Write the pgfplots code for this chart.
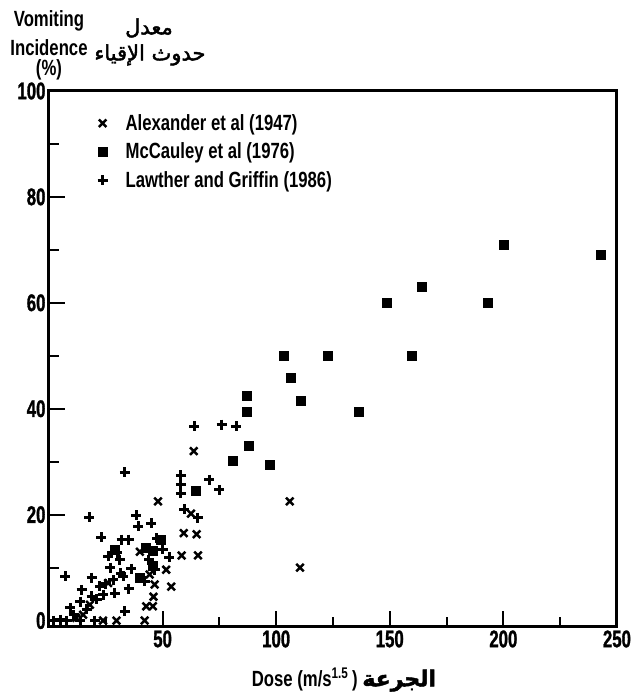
\documentclass[border=0pt]{standalone}
\usepackage{fontspec}
\usepackage{pgfplots}
\pgfplotsset{compat=1.18}
\TeXXeTstate=1
\setmainfont{Liberation Sans}[FakeStretch=0.76]
\newfontfamily\tickfont{Liberation Sans}[FakeStretch=0.70,FakeBold=1.2]
\newfontfamily\arabicfont[Script=Arabic,FakeBold=2]{DejaVu Sans}

\pgfplotstableread{
x y
200 71
243 69
164 63
148.5 60
193 60
103.5 50
122.5 50
159.5 50
106.5 45.8
87 42.5
111 41.5
87 39.5
136.5 39.5
88 33
81 30.2
97 29.5
64.7 24.5
49.4 15.2
42.8 13.7
45.7 13.1
29 13.4
45.7 10.4
40 8
}\mccauley

\pgfplotstableread{
x y
63.7 32
106 22.5
110.5 10
48 22.5
59.3 16.5
65 16.3
58.4 12.3
65.6 12.3
51.6 9.6
44.3 8.7
46.5 6.8
53.8 6.4
26 7.1
15 1.1
23.8 0
29.7 0
42.8 2.7
45.7 2.7
42.1 0
62.5 20.2
40 13
46 4.5
12 0.5
18 3
}\alexander

\pgfplotstableread{
x y
64 36.7
76 37
82.5 36.7
58 27.4
58 25.7
58 24
70.5 26.6
75 24.7
59.6 21
65.4 19.4
53 12
45 18.4
17.8 19.5
38.5 19.9
39.2 17.8
22.9 15.7
32 15.3
35.2 15.3
47.5 15.5
50 13.5
26 12.1
31.2 11.5
36.3 9.8
44 11.5
46.5 9.6
31.6 8.9
28.3 7.7
18.8 8.1
7.1 8.4
42.1 7.4
14.4 5.8
22.4 6.5
18.8 4.6
21 4
23.9 4.9
13.7 3.6
9.3 2.4
16.6 2.1
10.8 1.1
4.9 0.2
2 0
7.9 0
13.7 0
20.2 0
33.4 1.8
29 5.2
32.6 8.4
33.4 28
25 7
27 10
35 6
30 12.8
}\lawther

\begin{document}
\begin{tikzpicture}
\begin{axis}[
  scale only axis,
  width=568pt, height=536pt,
  xmin=0, xmax=250, ymin=-1.2, ymax=100,
  clip=false,
  axis line style={line width=3pt},
  xtick={50,100,150,200,250},
  minor xtick={25,75,125,175,225},
  ytick={0,20,40,60,80,100},
  minor ytick={10,30,50,70,90},
  xtick pos=bottom, ytick pos=left,
  tick align=inside,
  major tick length=16pt, minor tick length=10pt,
  every tick/.style={black, line width=2pt},
  /pgf/number format/assume math mode=true,
  tick label style={font=\tickfont\bfseries\fontsize{24}{24}\selectfont},
  legend style={draw=none, fill=none, at={(0.08,0.964)}, anchor=north west,
    font=\bfseries\fontsize{22}{26}\selectfont, row sep=7pt, column sep=16pt},
  legend cell align=left,
]
\addplot[only marks, mark=x, mark size=5.3pt, mark options={line width=2.5pt}] table {\alexander};
\addlegendentry{Alexander et al (1947)}
\addplot[only marks, mark=square*, mark size=4.5pt, mark options={line width=0.5pt, rounded corners=1pt}] table {\mccauley};
\addlegendentry{McCauley et al (1976)}
\addplot[only marks, mark=+, mark size=5pt, mark options={line width=3pt}] table {\lawther};
\addlegendentry{Lawther and Griffin (1986)}
\end{axis}
\path (current axis.south west) ++(-49pt,-68pt) coordinate (bl);
\path (current axis.south west) ++(576pt,627pt) coordinate (tr);
\path (bl) rectangle (tr);
\begin{scope}[shift={(current axis.south west)}]
\node[font=\bfseries\fontsize{22}{22}\selectfont] at (0pt,606pt) {Vomiting};
\node[font=\bfseries\fontsize{22}{22}\selectfont] at (0pt,579pt) {Incidence};
\node[font=\bfseries\fontsize{22}{22}\selectfont] at (0pt,557pt) {(\%)};
\node[font=\arabicfont\fontsize{21}{21}\selectfont] at (100pt,599pt) {\beginR معدل\endR};
\node[font=\arabicfont\fontsize{21}{21}\selectfont] at (101pt,572pt) {\beginR حدوث الإقياء\endR};
\node[font=\bfseries\fontsize{22}{22}\selectfont] at (295pt,-53pt) {Dose (m/s\textsuperscript{1.5}\,) \arabicfont\beginR الجرعة\endR};
\end{scope}
\end{tikzpicture}
\end{document}
